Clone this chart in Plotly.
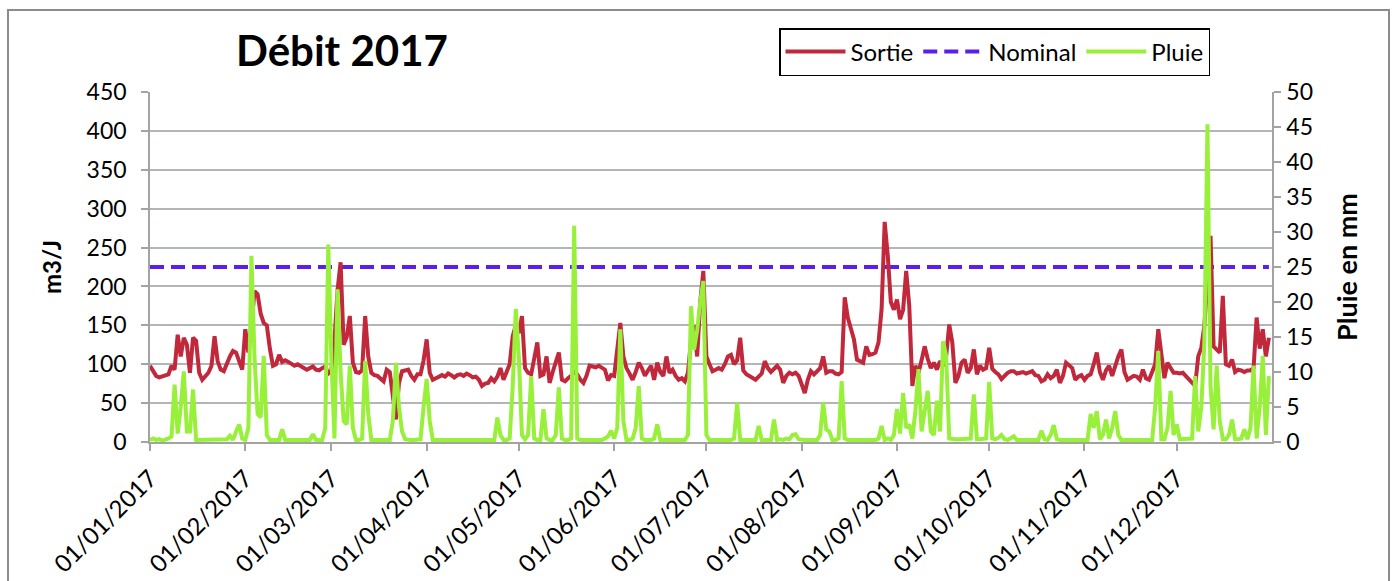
import pandas as pd
import plotly.graph_objects as go

# ---------------- data ----------------
dates = pd.date_range("2017-01-01", "2017-12-31", freq="D")

month_ticks = ["2017-01-01", "2017-02-01", "2017-03-01", "2017-04-01", "2017-05-01", "2017-06-01",
               "2017-07-01", "2017-08-01", "2017-09-01", "2017-10-01", "2017-11-01", "2017-12-01"]
tick_labels = ["01/01/2017", "01/02/2017", "01/03/2017", "01/04/2017", "01/05/2017", "01/06/2017",
               "01/07/2017", "01/08/2017", "01/09/2017", "01/10/2017", "01/11/2017", "01/12/2017"]

nominal_value = 225

# Sortie (m3/J), one value per day, month by month
sortie_jan = [98, 91, 85, 83, 84, 85, 87, 98, 93, 138, 110, 134, 125, 89, 134, 130, 89, 80, 85, 89,
              98, 136, 104, 93, 91, 102, 110, 117, 115, 104, 93]
sortie_feb = [145, 115, 150, 194, 190, 165, 153, 150, 120, 98, 100, 112, 103, 105, 103, 100, 98, 100,
              98, 95, 93, 95, 97, 93, 92, 95, 97, 88]
sortie_mar = [92, 130, 195, 231, 125, 135, 162, 102, 90, 89, 92, 162, 110, 89, 86, 85, 82, 78, 93, 90,
              59, 29, 76, 91, 92, 93, 85, 80, 87, 87, 105]
sortie_apr = [132, 89, 80, 82, 84, 86, 84, 88, 86, 83, 86, 87, 85, 88, 86, 83, 84, 80, 72, 75,
              76, 82, 78, 84, 95, 80, 90, 100, 136, 150]
sortie_may = [140, 162, 95, 89, 87, 110, 128, 85, 87, 110, 76, 90, 102, 115, 80, 78, 82, 85, 90, 87,
              80, 76, 85, 98, 97, 96, 98, 95, 93, 79, 86]
sortie_jun = [85, 120, 153, 110, 95, 88, 80, 90, 102, 95, 85, 92, 98, 80, 102, 90, 85, 110, 89, 93,
              85, 80, 82, 78, 89, 130, 150, 110, 180, 220]
sortie_jul = [110, 100, 91, 93, 95, 93, 100, 110, 112, 100, 105, 134, 92, 87, 85, 83, 80, 84, 88, 104,
              95, 90, 95, 98, 93, 76, 85, 89, 87, 89, 85]
sortie_aug = [72, 63, 80, 91, 87, 92, 95, 110, 89, 91, 91, 88, 87, 90, 186, 160, 145, 132, 106, 104,
              102, 123, 112, 113, 115, 128, 171, 283, 240, 180, 170]
sortie_sep = [183, 158, 170, 220, 175, 72, 98, 89, 105, 123, 107, 95, 102, 93, 104, 98, 110, 151, 128, 76,
              85, 102, 106, 89, 95, 119, 87, 98, 93, 95]
sortie_oct = [121, 94, 90, 87, 81, 85, 89, 91, 91, 88, 89, 90, 88, 89, 91, 86, 85, 78, 80, 87,
              82, 85, 93, 76, 85, 102, 98, 95, 80, 84, 86]
sortie_nov = [80, 85, 87, 100, 115, 90, 80, 92, 98, 85, 98, 110, 119, 90, 80, 82, 85, 84, 80, 93,
              82, 80, 89, 100, 145, 110, 82, 102, 95, 89]
sortie_dec = [89, 88, 89, 85, 80, 76, 72, 110, 121, 150, 200, 265, 123, 118, 115, 188, 100, 98, 106, 90,
              93, 92, 90, 92, 92, 95, 160, 120, 145, 110, 134]

# Pluie (mm), one value per day, month by month
pluie_jan = [0.3, 0.5, 0.3, 0.4, 0.2, 0.3, 0.5, 0.8, 8.2, 1.2, 5, 10.1, 1.5, 1.5, 7.5, 0.3, 0.3, 0.3, 0.3, 0.3,
             0.3, 0.3, 0.3, 0.3, 0.3, 0.4, 0.9, 0.3, 1.5, 2.5, 0.5]
pluie_feb = [0.3, 2, 26.6, 12, 4, 3.5, 12.3, 1, 0.3, 0.3, 0.3, 0.3, 1.8, 0.3, 0.3, 0.3, 0.3, 0.3, 0.3, 0.3,
             0.3, 0.3, 1.1, 0.3, 0.3, 0.3, 2, 28.2]
pluie_mar = [12, 0.5, 21.8, 10, 3, 2.5, 10.9, 2, 0.3, 0.3, 0.5, 11.6, 4, 0.3, 0.3, 0.3, 0.3, 0.3, 0.3, 0.3,
             3, 11.3, 5, 1.5, 0.4, 0.3, 0.3, 0.3, 0.3, 0.4, 5]
pluie_apr = [9, 3, 0.3, 0.3, 0.3, 0.3, 0.3, 0.3, 0.3, 0.3, 0.3, 0.3, 0.3, 0.3, 0.3, 0.3, 0.3, 0.3, 0.3, 0.3,
             0.3, 0.3, 0.3, 3.5, 1, 0.3, 0.3, 0.5, 8, 19]
pluie_may = [12, 1, 0.4, 1, 9.4, 0.5, 0.3, 0.3, 4.7, 0.5, 0.3, 0.3, 1, 7.8, 0.5, 0.3, 0.3, 0.5, 30.9, 0.5,
             0.3, 0.3, 0.3, 0.3, 0.3, 0.3, 0.3, 0.3, 0.5, 0.8, 1.6]
pluie_jun = [0.5, 2, 16.1, 3, 0.3, 0.3, 0.5, 2, 8, 0.5, 0.3, 0.3, 0.3, 0.5, 2.5, 0.3, 0.3, 0.3, 0.3, 0.3,
             0.3, 0.3, 0.3, 0.3, 1, 19.4, 13.2, 16, 20, 23]
pluie_jul = [1, 0.3, 0.3, 0.3, 0.3, 0.3, 0.3, 0.3, 0.3, 0.5, 5.6, 0.3, 0.3, 0.3, 0.3, 0.3, 0.3, 2.3, 0.3, 0.3,
             0.3, 0.3, 3.2, 0.3, 0.4, 0.3, 0.5, 0.4, 1, 1.1, 0.4]
pluie_aug = [0.3, 0.3, 0.3, 0.3, 0.3, 0.3, 1, 5.6, 1.8, 1.5, 0.3, 0.3, 0.5, 8.7, 0.5, 0.3, 0.3, 0.3, 0.3, 0.3,
             0.3, 0.3, 0.3, 0.3, 0.3, 0.5, 2.3, 0.3, 0.5, 0.3, 1]
pluie_sep = [4.7, 1.2, 7, 2, 2.5, 0.5, 4.5, 10.4, 1.5, 4, 7.3, 1.5, 1, 5.9, 1.5, 14.4, 12.3, 0.5, 0.4, 0.4,
             0.4, 0.4, 0.4, 0.4, 0.5, 6.8, 0.4, 0.4, 0.4, 0.5]
pluie_oct = [8.6, 0.5, 0.4, 0.6, 1, 0.4, 0.3, 0.5, 0.8, 0.3, 0.3, 0.3, 0.3, 0.3, 0.3, 0.3, 0.3, 1.6, 0.4, 0.3,
             1, 2.4, 0.4, 0.3, 0.3, 0.3, 0.3, 0.3, 0.3, 0.3, 0.3]
pluie_nov = [0.3, 0.3, 4, 2, 4.4, 0.4, 1, 3.2, 0.5, 2, 4.4, 1, 0.3, 0.3, 0.3, 0.3, 0.3, 0.3, 0.3, 0.3,
             0.3, 0.3, 0.3, 5, 13, 0.4, 0.4, 2, 7.3, 1]
pluie_dec = [2.5, 0.4, 0.4, 0.4, 0.4, 0.5, 9.4, 1.5, 5, 14.2, 45.4, 8, 1.8, 10.9, 3, 0.4, 0.4, 1, 3.2, 0.4,
             0.4, 0.5, 1.8, 0.4, 2, 10.9, 0.5, 5, 12.3, 1, 9.4]

sortie = (sortie_jan + sortie_feb + sortie_mar + sortie_apr + sortie_may + sortie_jun +
          sortie_jul + sortie_aug + sortie_sep + sortie_oct + sortie_nov + sortie_dec)
pluie = (pluie_jan + pluie_feb + pluie_mar + pluie_apr + pluie_may + pluie_jun +
         pluie_jul + pluie_aug + pluie_sep + pluie_oct + pluie_nov + pluie_dec)
assert len(sortie) == len(dates) and len(pluie) == len(dates), (len(sortie), len(pluie))
nominal = [nominal_value for _ in dates]

# ---------------- figure ----------------
FONT = "Lato, 'Open Sans', sans-serif"
W, H = 1394, 581
L, R, T, B = 150, 122, 92, 139
PW, PH = W - L - R, H - T - B


def px_x(x):
    return (x - L) / PW


def px_y(y):
    return (H - B - y) / PH


fig = go.Figure()
fig.add_trace(go.Scatter(x=dates, y=nominal, name="Nominal", mode="lines", legendrank=2,
                         line=dict(color="#5a1ff0", width=4, dash="14px,7px")))
fig.add_trace(go.Scatter(x=dates, y=sortie, name="Sortie", mode="lines", legendrank=1,
                         line=dict(color="#c1283b", width=4)))
fig.add_trace(go.Scatter(x=dates, y=pluie, name="Pluie", mode="lines", yaxis="y2", legendrank=3,
                         line=dict(color="#98f03a", width=4)))

axis_gray = "#a3a3a3"
TICK = 23
fig.update_layout(
    width=W, height=H,
    margin=dict(l=L, r=R, t=T, b=B, pad=0, autoexpand=False),
    paper_bgcolor="white", plot_bgcolor="white",
    font=dict(family=FONT, size=TICK, color="black"),
    showlegend=True,
    legend=dict(orientation="h", x=px_x(779), y=px_y(28), xanchor="left", yanchor="top",
                bordercolor="black", borderwidth=1.5, bgcolor="white",
                font=dict(size=24, family=FONT), traceorder="normal",
                itemwidth=60, tracegroupgap=0),
    xaxis=dict(type="date", range=["2017-01-01", "2018-01-01"], automargin=False,
               tickmode="array", tickvals=month_ticks, ticktext=tick_labels,
               tickangle=-45, showgrid=False, zeroline=False,
               showline=True, linecolor=axis_gray, linewidth=1.5,
               ticks="outside", ticklen=7, tickcolor=axis_gray, tickwidth=1.5,
               ticklabelstandoff=4,
               tickfont=dict(size=24)),
    yaxis=dict(range=[0, 450], tickmode="linear", tick0=0, dtick=50, automargin=False,
               showgrid=True, gridcolor="#b2b6b6", gridwidth=1.5, zeroline=False,
               showline=True, linecolor=axis_gray, linewidth=1.5,
               ticks="outside", ticklen=7, tickcolor=axis_gray, tickwidth=1.5,
               ticklabelstandoff=10,
               tickfont=dict(size=TICK),
               title=dict(text="<b>m3/J</b>", font=dict(size=24), standoff=18)),
    yaxis2=dict(range=[0, 50], tickmode="linear", tick0=0, dtick=5, overlaying="y", side="right",
                automargin=False, showgrid=False, zeroline=False,
                showline=True, linecolor=axis_gray, linewidth=1.5,
                ticks="outside", ticklen=7, tickcolor=axis_gray, tickwidth=1.5,
                ticklabelstandoff=1,
                tickfont=dict(size=TICK),
                title=dict(text="<b>Pluie en mm</b>", font=dict(size=27), standoff=26)),
    annotations=[dict(text="<b>Débit 2017</b>", xref="paper", yref="paper",
                      x=px_x(234), y=px_y(50), xanchor="left", yanchor="middle",
                      showarrow=False, font=dict(size=42, family=FONT, color="black"))],
    shapes=[dict(type="rect", xref="paper", yref="paper",
                 x0=px_x(8), x1=px_x(1389), y0=px_y(600), y1=px_y(10),
                 line=dict(color="#8c8c8c", width=2), fillcolor="rgba(0,0,0,0)", layer="below")],
)

fig.write_html("out.html", config={"displayModeBar": False},
               post_script="document.body.style.margin='0px';")
